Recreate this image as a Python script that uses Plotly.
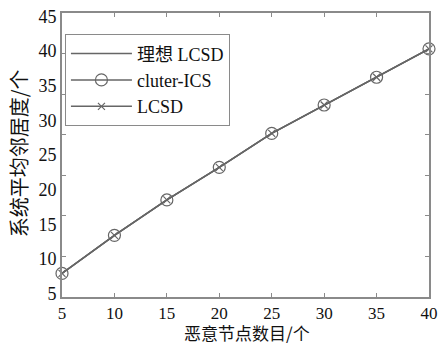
import plotly.graph_objects as go

# Data
malicious_nodes = [5, 10, 15, 20, 25, 30, 35, 40]
ideal_lcsd = [7.9, 13.4, 18.5, 23.2, 28.1, 32.2, 36.2, 40.3]
cluter_ics = [7.9, 13.4, 18.5, 23.2, 28.1, 32.2, 36.2, 40.3]
lcsd = [7.9, 13.4, 18.5, 23.2, 28.1, 32.2, 36.2, 40.3]

y_label_ticks = [5, 10, 15, 20, 25, 30, 35, 40, 45]
y_mark_ticks = [5, 10, 15, 20, 25, 30, 35, 40]
x_ticks = [5, 10, 15, 20, 25, 30, 35, 40]

series_names = ["理想 LCSD", "cluter-ICS", "LCSD"]
x_title = "恶意节点数目/个"
y_title = "系统平均邻居度/个"

LINE = "#666666"
AXIS = "#8a8a8a"
SERIF = "Liberation Serif, Times New Roman, Noto Sans CJK SC, serif"
CJK = "Noto Sans CJK SC"

fig = go.Figure()
fig.add_trace(go.Scatter(x=malicious_nodes, y=ideal_lcsd, name=series_names[0],
                         mode="lines", line=dict(color=LINE, width=1.5),
                         cliponaxis=False))
fig.add_trace(go.Scatter(x=malicious_nodes, y=cluter_ics, name=series_names[1],
                         mode="lines+markers", line=dict(color=LINE, width=1.5),
                         marker=dict(symbol="circle-open", size=12, color=LINE,
                                     line=dict(width=1.2, color=LINE)),
                         cliponaxis=False))
fig.add_trace(go.Scatter(x=malicious_nodes, y=lcsd, name=series_names[2],
                         mode="lines+markers", line=dict(color=LINE, width=1.5),
                         marker=dict(symbol="x-thin-open", size=7, color=LINE,
                                     line=dict(width=1.2, color=LINE)),
                         cliponaxis=False))
# empty trace to carry the tick-mark axis
fig.add_trace(go.Scatter(x=[], y=[], yaxis="y2", showlegend=False, hoverinfo="skip"))

fig.update_layout(
    width=441, height=344,
    margin=dict(l=62, r=12, t=13, b=47),
    paper_bgcolor="white", plot_bgcolor="white",
    font=dict(family=SERIF, size=18, color="#111111"),
    showlegend=True,
    legend=dict(x=0.008, y=0.925, xanchor="left", yanchor="top",
                bgcolor="white", bordercolor=AXIS, borderwidth=1,
                font=dict(family=SERIF, size=18, color="#111111"),
                itemwidth=61, tracegroupgap=0),
    xaxis=dict(range=[5, 40], tickvals=x_ticks, ticks="inside", ticklen=4,
               tickcolor=AXIS, tickwidth=1, showline=True, linecolor=AXIS,
               linewidth=2, mirror="ticks", showgrid=False, zeroline=False,
               automargin=False,
               tickfont=dict(family=SERIF, size=17)),
    yaxis=dict(range=[4.5, 45.47], tickvals=y_label_ticks, ticks="",
               showline=True, linecolor=AXIS, linewidth=2, mirror=True,
               showgrid=False, zeroline=False, automargin=False,
               tickfont=dict(family=SERIF, size=18)),
    yaxis2=dict(range=[5, 40], tickvals=y_mark_ticks, overlaying="y",
                side="left", ticks="inside", ticklen=4, tickcolor=AXIS,
                tickwidth=1, showticklabels=False, showline=True,
                linecolor=AXIS, linewidth=2, mirror="ticks",
                showgrid=False, zeroline=False, automargin=False),
    annotations=[
        dict(text=x_title, xref="paper", yref="paper", x=0.505, y=-0.125,
             xanchor="center", yanchor="middle", showarrow=False,
             font=dict(family=CJK, size=17, color="#111111")),
        dict(text=y_title, xref="paper", yref="paper", x=-0.118, y=0.505,
             xanchor="center", yanchor="middle", textangle=-90, showarrow=False,
             font=dict(family=CJK, size=20, color="#111111")),
    ],
)

fig.write_html("out.html")
